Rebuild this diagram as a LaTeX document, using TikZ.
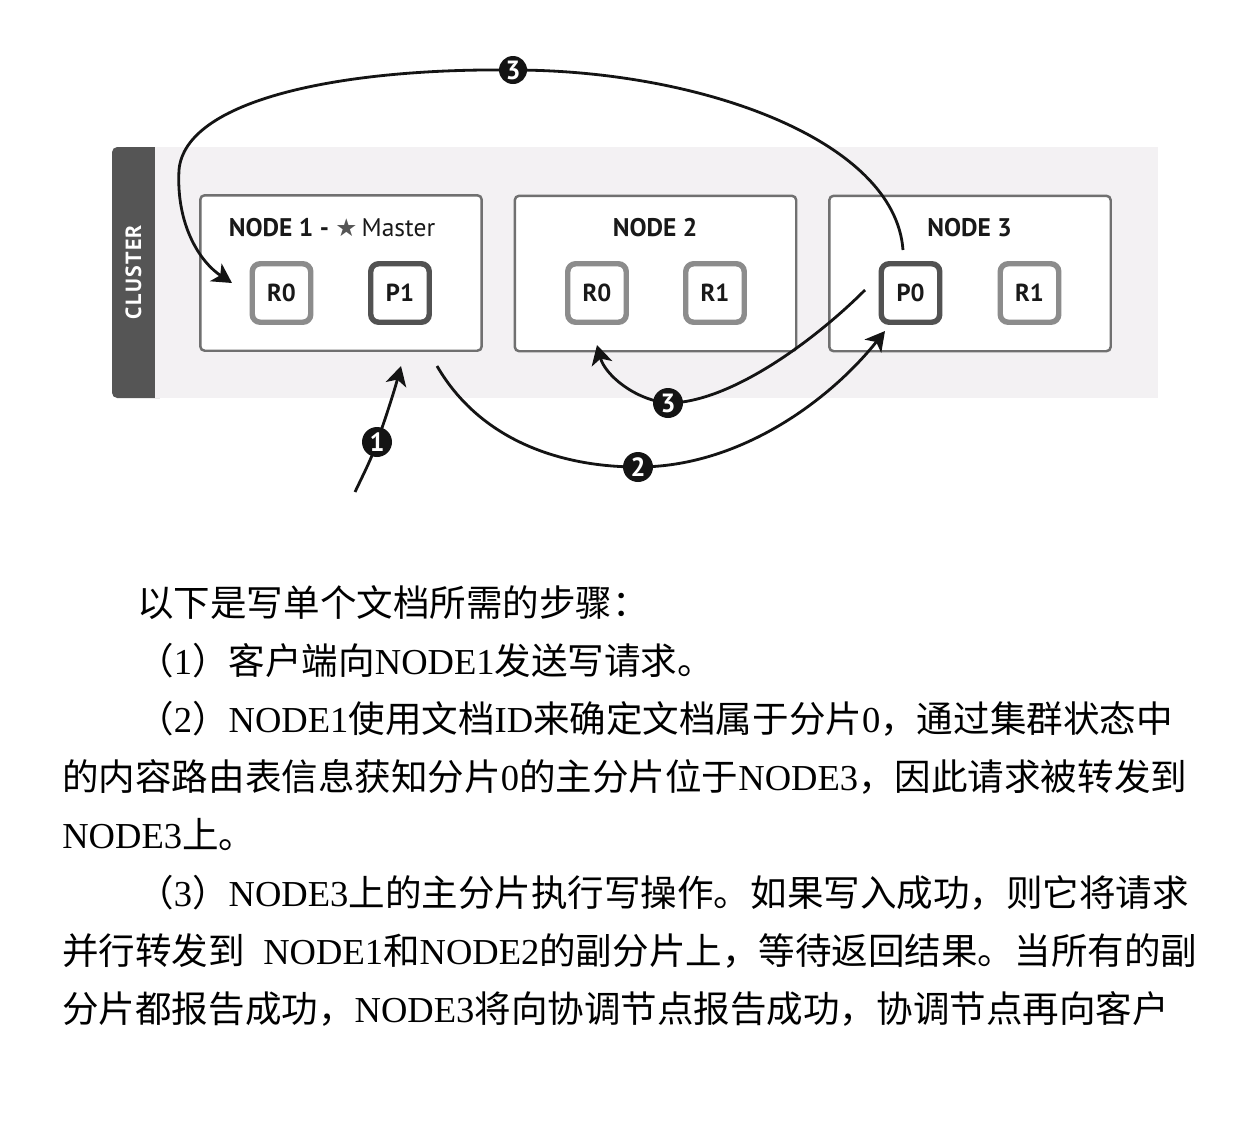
\documentclass[tikz,border=0pt]{standalone}
\usepackage{fontspec}
\setmainfont{Liberation Serif}
\newfontfamily\cjk{Noto Sans CJK SC}
\newfontfamily\ptsans{PT Sans}
\newfontfamily\djv{DejaVu Sans}
\usetikzlibrary{arrows.meta}
\newcommand\zh[1]{{\cjk #1}}
\definecolor{clusterbg}{HTML}{F3F1F3}
\definecolor{bardark}{HTML}{555555}
\definecolor{boxline}{HTML}{707070}
\definecolor{rline}{HTML}{8C8C8C}
\definecolor{pline}{HTML}{525252}
\begin{document}
\begin{tikzpicture}[x=0.02cm,y=-0.02cm,
  nodebox/.style={draw=boxline, line width=1.4pt, fill=white, rounded corners=2.5pt, minimum width=5.63cm, minimum height=3.11cm, inner sep=0},
  rshard/.style={draw=rline, line width=3.1pt, fill=white, rounded corners=4.5pt, minimum size=1.17cm, inner sep=0, font=\ptsans\bfseries\fontsize{14pt}{14pt}\selectfont, text=black!90},
  pshard/.style={rshard, draw=pline},
  title/.style={font=\ptsans\bfseries\fontsize{14.5pt}{14.5pt}\selectfont, text=black!90, inner sep=0},
  badge/.style={circle, fill=black!92, minimum size=0.6cm, inner sep=0, text=white, font=\ptsans\bfseries\fontsize{15pt}{15pt}\selectfont},
  conn/.style={line width=1.6pt, black!92},
  arr/.style={conn, -{Stealth[length=11pt,width=12pt,inset=3pt]}},
  body/.style={anchor=base west, inner sep=0, font=\fontsize{20.8pt}{20.8pt}\selectfont}
]
\fill[white] (0,0) rectangle (1254,1120);
\useasboundingbox (0,0) rectangle (1254,1120);

% cluster
\fill[bardark, rounded corners=3pt] (112,147) rectangle (165,398);
\fill[clusterbg] (155,147) rectangle (1158,398);
\node[rotate=90, text=white, inner sep=0, font=\ptsans\bfseries\fontsize{12.5pt}{12.5pt}\selectfont\addfontfeatures{LetterSpace=6}] (cl) at (133.5,272) {CLUSTER};

% nodes
\node[nodebox] (n1) at (341,273) {};
\node[nodebox] (n2) at (655.5,273.5) {};
\node[nodebox] (n3) at (970,273.5) {};

\node[title] (t1) at (332,228) {NODE 1 - {\color{bardark}\djv\mdseries\fontsize{14pt}{14pt}\selectfont ★}\,{\mdseries Master}};
\node[title] (t2) at (655,228) {NODE 2};
\node[title] (t3) at (969.5,228) {NODE 3};

\node[rshard] (s1) at (281.5,293) {R0};
\node[pshard] (s2) at (400,293) {P1};
\node[rshard] (s3) at (597,293) {R0};
\node[rshard] (s4) at (715,293) {R1};
\node[pshard] (s5) at (910.5,293) {P0};
\node[rshard] (s6) at (1029.5,293) {R1};

% connector points
\coordinate (a1s) at (355,492);
\coordinate (a1e) at (401,366);
\coordinate (p1) at (377,442);
\coordinate (a2s) at (437,366);
\coordinate (a2e) at (885,331);
\coordinate (p2) at (638,467);
\coordinate (a3s) at (865,290);
\coordinate (a3e) at (597,345);
\coordinate (p3) at (668,403);
\coordinate (a4s) at (903,250);
\coordinate (a4e) at (232,283);
\coordinate (p4) at (513,70);

% step 1
\draw[conn] (a1s) .. controls (362,477) and (372,458) .. (p1);
\draw[arr] (p1) .. controls (385,420) and (394,392) .. (a1e);
% step 2
\draw[conn] (a2s) .. controls (480,440) and (560,467) .. (p2);
\draw[arr] (p2) .. controls (740,467) and (830,400) .. (a2e);
% step 3 (node 2)
\draw[conn] (a3s) .. controls (815,340) and (730,403) .. (p3);
\draw[arr] (p3) .. controls (635,400) and (605,375) .. (a3e);
% step 3 (node 1)
\draw[conn] (a4s) .. controls (895,140) and (700,70) .. (p4);
\draw[arr] (p4) .. controls (340,68) and (185,100) .. (179,170) .. controls (176,225) and (200,262) .. (a4e);

\node[badge] (b1) at (p1) {1};
\node[badge] (b2) at (p2) {2};
\node[badge] (b3) at (p3) {3};
\node[badge, minimum size=0.56cm] (b4) at (p4) {3};

% text
\node[body] (l1) at (137,616) {\zh{以下是写单个文档所需的步骤：}};
\node[body] (l2) at (137,674) {\zh{（}1\zh{）客户端向}NODE1\zh{发送写请求。}};
\node[body] (l3) at (137,732) {\zh{（}2\zh{）}NODE1\zh{使用文档}ID\zh{来确定文档属于分片}0\zh{，通过集群状态中}};
\node[body] (l4) at (62,790) {\zh{的内容路由表信息获知分片}0\zh{的主分片位于}NODE3\zh{，因此请求被转发到}};
\node[body] (l5) at (62,848) {NODE3\zh{上。}};
\node[body] (l6) at (137,906) {\zh{（}3\zh{）}NODE3\zh{上的主分片执行写操作。如果写入成功，则它将请求}};
\node[body] (l7) at (62,964) {\zh{并行转发到}\ \ NODE1\zh{和}NODE2\zh{的副分片上，等待返回结果。当所有的副}};
\node[body] (l8) at (62,1022) {\zh{分片都报告成功，}NODE3\zh{将向协调节点报告成功，协调节点再向客户}};
\end{tikzpicture}
\end{document}
